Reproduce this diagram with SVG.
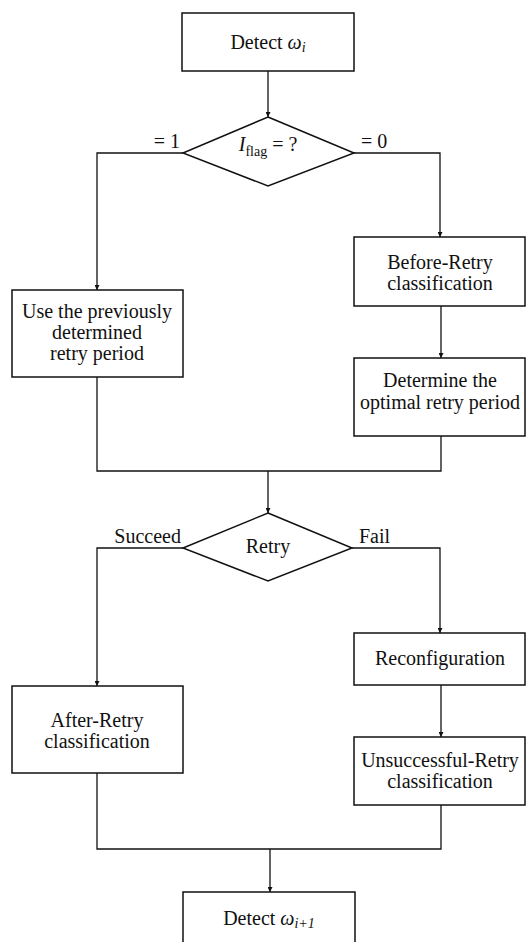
<svg xmlns="http://www.w3.org/2000/svg" width="526" height="942" viewBox="0 0 526 942">
<style>
.box{fill:#fff;stroke:#111;stroke-width:1.5}
.ln{fill:none;stroke:#111;stroke-width:1.3}
text{font-family:"Liberation Serif","DejaVu Serif",serif;font-size:20px;fill:#111;text-anchor:middle}
.it{font-style:italic}
.sub{font-size:14px}
.lbl{text-anchor:start}
.lblr{text-anchor:end}
</style>
<defs>
<marker id="ah" viewBox="0 0 6 6" refX="6" refY="3" markerWidth="5" markerHeight="5" orient="auto" markerUnits="userSpaceOnUse">
<path d="M0,0 L6,3 L0,6 z" fill="#111"/>
</marker>
</defs>
<rect width="526" height="942" fill="#fff"/>
<g id="connectors">
<path class="ln" d="M268,71 V117" marker-end="url(#ah)"/>
<path class="ln" d="M183,153 H97 V290" marker-end="url(#ah)"/>
<path class="ln" d="M354,153 H440 V237" marker-end="url(#ah)"/>
<path class="ln" d="M441,306 V358" marker-end="url(#ah)"/>
<path class="ln" d="M97,377 V471 H441 V436"/>
<path class="ln" d="M268,471 V513" marker-end="url(#ah)"/>
<path class="ln" d="M183,548 H97 V686" marker-end="url(#ah)"/>
<path class="ln" d="M352,548 H440 V633" marker-end="url(#ah)"/>
<path class="ln" d="M441,685 V737" marker-end="url(#ah)"/>
<path class="ln" d="M97,773 V849 H441 V805"/>
<path class="ln" d="M270,849 V892" marker-end="url(#ah)"/>
<text class="lblr" x="180" y="148">= 1</text>
<text class="lbl" x="361" y="148">= 0</text>
<text class="lblr" x="181" y="543">Succeed</text>
<text class="lbl" x="359" y="543">Fail</text>
</g>
<g id="detect-i">
<rect class="box" x="182" y="13" width="172" height="58"/>
<text x="268" y="49">Detect <tspan class="it">ω</tspan><tspan class="it sub" dy="3">i</tspan></text>
</g>
<g id="iflag">
<path class="box" d="M268,117 L354,153 L268,186 L183,153 Z"/>
<text x="268" y="151"><tspan class="it">I</tspan><tspan class="sub" dy="5">flag</tspan><tspan dy="-5"> = ?</tspan></text>
</g>
<g id="use-previous">
<rect class="box" x="12" y="290" width="171" height="87"/>
<text x="97" y="318">Use the previously</text>
<text x="97" y="339">determined</text>
<text x="97" y="360">retry period</text>
</g>
<g id="before-retry">
<rect class="box" x="354" y="237" width="171" height="69"/>
<text x="440" y="269">Before-Retry</text>
<text x="440" y="290">classification</text>
</g>
<g id="determine-optimal">
<rect class="box" x="354" y="358" width="171" height="78"/>
<text x="440" y="387">Determine the</text>
<text x="440" y="409">optimal retry period</text>
</g>
<g id="retry">
<path class="box" d="M268,513 L352,548 L268,581 L183,548 Z"/>
<text x="268" y="553">Retry</text>
</g>
<g id="after-retry">
<rect class="box" x="12" y="686" width="171" height="87"/>
<text x="97" y="727">After-Retry</text>
<text x="97" y="748">classification</text>
</g>
<g id="reconfiguration">
<rect class="box" x="354" y="633" width="171" height="52"/>
<text x="440" y="665">Reconfiguration</text>
</g>
<g id="unsuccessful-retry">
<rect class="box" x="354" y="737" width="171" height="68"/>
<text x="440" y="767">Unsuccessful-Retry</text>
<text x="440" y="788">classification</text>
</g>
<g id="detect-i1">
<rect class="box" x="183" y="892" width="172" height="60"/>
<text x="269" y="925">Detect <tspan class="it">ω</tspan><tspan class="it sub" dy="3">i+1</tspan></text>
</g>
</svg>
